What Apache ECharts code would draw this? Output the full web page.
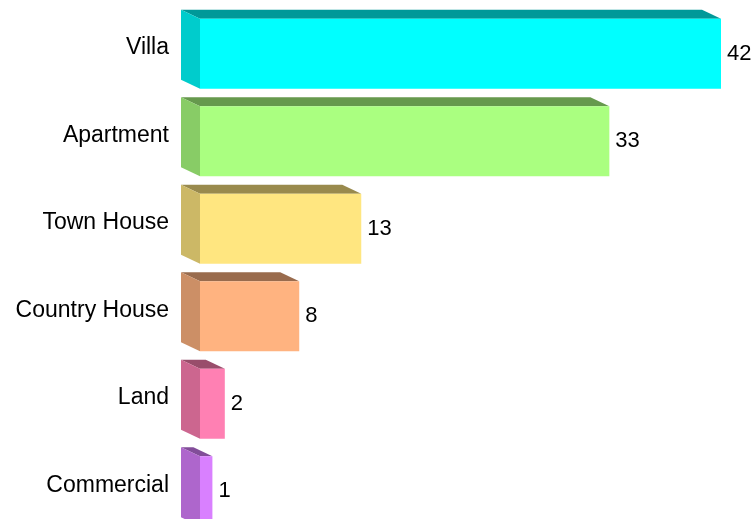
<!DOCTYPE html>
<html>
<head>
<meta charset="utf-8">
<script src="https://cdn.jsdelivr.net/npm/echarts@6/dist/echarts.min.js"></script>
<style>
  html, body { margin: 0; padding: 0; background: #fff; }
  #chart { width: 752px; height: 519px; }
</style>
</head>
<body>
<div id="chart"></div>
<script>
// property types and their counts
var categories = ['Villa', 'Apartment', 'Town House', 'Country House', 'Land', 'Commercial']
var counts = [42, 33, 13, 8, 2, 1]

// front face colours, side and top faces are darker shades
var faceColors = ['#00ffff', '#aaff80', '#ffe680', '#ffb380', '#ff80b3', '#d980ff']

var FONT = "'Liberation Sans', Arial, sans-serif"
var DEPTH_X = -19
var DEPTH_Y = -9
var BAR_H = 70

function shade(hex, k) {
  var n = parseInt(hex.slice(1), 16)
  var r = Math.round(((n >> 16) & 255) * k)
  var g = Math.round(((n >> 8) & 255) * k)
  var b = Math.round((n & 255) * k)
  return 'rgb(' + r + ',' + g + ',' + b + ')'
}

var chart = echarts.init(document.getElementById('chart'))

chart.setOption({
  animation: false,
  grid: {
    left: 200,
    top: 10,
    width: 521,
    height: 525,
    outerBoundsMode: 'none'
  },
  xAxis: {
    type: 'value',
    min: 0,
    max: 42,
    show: false
  },
  yAxis: {
    type: 'category',
    data: categories,
    inverse: true,
    axisLine: { show: false },
    axisTick: { show: false },
    splitLine: { show: false },
    axisLabel: {
      margin: 31,
      color: '#000',
      fontSize: 23,
      fontFamily: FONT,
      verticalAlign: 'bottom',
      lineHeight: 12
    }
  },
  series: [{
    type: 'custom',
    clip: false,
    encode: { x: 0, y: 1 },
    data: counts.map(function (v, i) { return [v, i] }),
    renderItem: function (params, api) {
      var val = api.value(0)
      var idx = api.value(1)
      var end = api.coord([val, idx])
      var start = api.coord([0, idx])
      var x0 = start[0]
      var x1 = end[0]
      var yc = end[1]
      var yt = yc - BAR_H / 2
      var yb = yc + BAR_H / 2
      var base = faceColors[idx]
      return {
        type: 'group',
        children: [
          {
            type: 'polygon',
            shape: { points: [[x0, yt], [x1, yt], [x1 + DEPTH_X, yt + DEPTH_Y], [x0 + DEPTH_X, yt + DEPTH_Y]] },
            style: { fill: shade(base, 0.6) }
          },
          {
            type: 'polygon',
            shape: { points: [[x0, yt], [x0, yb], [x0 + DEPTH_X, yb + DEPTH_Y], [x0 + DEPTH_X, yt + DEPTH_Y]] },
            style: { fill: shade(base, 0.8) }
          },
          {
            type: 'rect',
            shape: { x: x0, y: yt, width: x1 - x0, height: BAR_H },
            style: { fill: base }
          },
          {
            type: 'text',
            style: {
              text: String(val),
              x: x1 + 6,
              y: yc,
              verticalAlign: 'middle',
              align: 'left',
              fill: '#000',
              font: '22px ' + FONT
            }
          }
        ]
      }
    }
  }]
})
</script>
</body>
</html>
